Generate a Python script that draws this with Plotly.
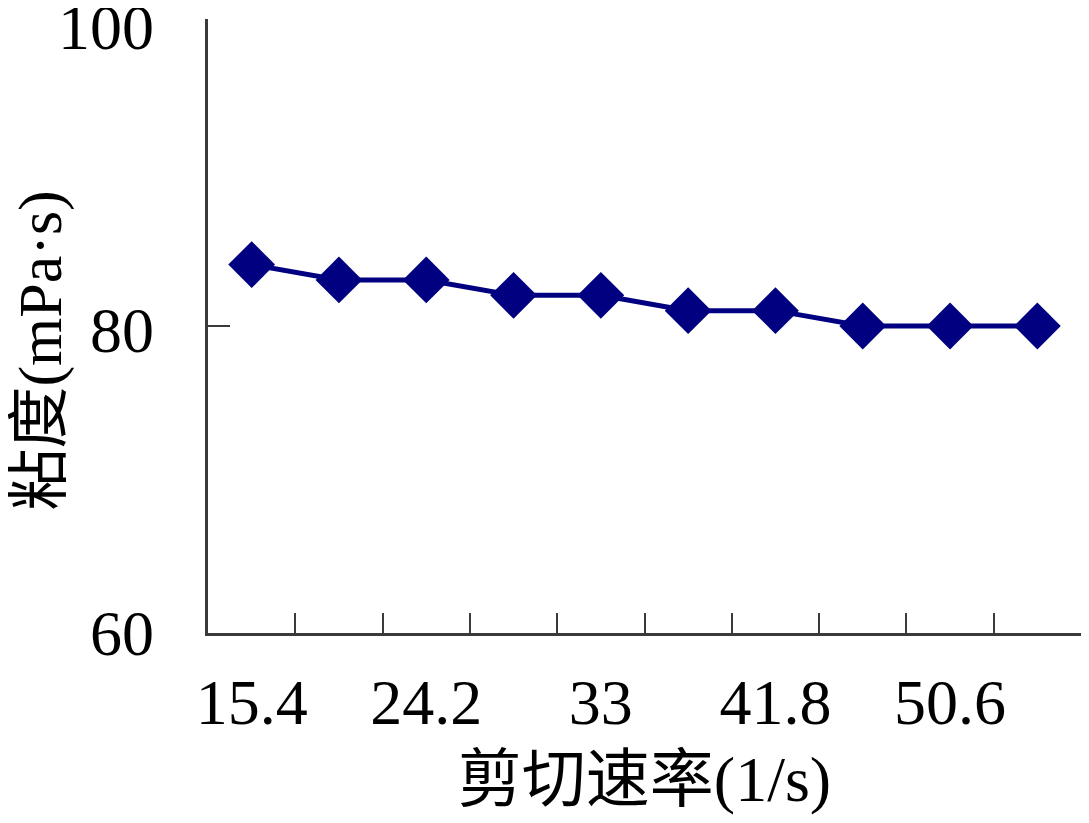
import plotly.graph_objects as go

# shear rate categories (1/s) and measured viscosity (mPa·s)
shear_rate = ["15.4", "19.8", "24.2", "28.6", "33", "37.4", "41.8", "46.2", "50.6", "55"]
viscosity = [84, 83, 83, 82, 82, 81, 81, 80, 80, 80]
label_every = ["15.4", "24.2", "33", "41.8", "50.6"]
y_ticks = [60, 80, 100]

font_main = "Liberation Serif, Times New Roman, Noto Sans CJK SC, serif"
axis_color = "#3a3a3a"

xpos = list(range(len(shear_rate)))

fig = go.Figure()
fig.add_trace(
    go.Scatter(
        x=xpos,
        y=viscosity,
        mode="lines+markers",
        line=dict(color="#000080", width=5),
        marker=dict(symbol="diamond", size=36, color="#000080"),
        showlegend=False,
    )
)
# invisible trace on the label axes so they get drawn
fig.add_trace(
    go.Scatter(x=xpos, y=viscosity, xaxis="x2", yaxis="y2", mode="markers",
               marker=dict(opacity=0), hoverinfo="skip", showlegend=False)
)

# ticks sit between categories, labels under every other category
boundaries = [i - 0.5 for i in range(len(shear_rate) + 1)]
label_pos = [shear_rate.index(s) for s in label_every]

big = dict(family=font_main, size=64, color="black")

# page has an 8px body margin, so keep the figure a bit smaller than the window
fig.update_layout(
    width=1073,
    height=807,
    margin=dict(l=200, r=0, t=11, b=182),
    paper_bgcolor="white",
    plot_bgcolor="white",
    font=big,
    xaxis=dict(
        range=[-0.5, len(shear_rate) - 0.5],
        tickvals=boundaries,
        ticktext=[""] * len(boundaries),
        ticks="inside",
        ticklen=20,
        tickwidth=2,
        tickcolor=axis_color,
        showline=True,
        linecolor=axis_color,
        linewidth=3,
        showgrid=False,
        zeroline=False,
        automargin=False,
    ),
    xaxis2=dict(
        overlaying="x",
        matches="x",
        side="bottom",
        tickvals=label_pos,
        ticktext=label_every,
        ticks="",
        ticklabelstandoff=26,
        ticklabeloverflow="allow",
        showline=False,
        showgrid=False,
        zeroline=False,
        automargin=False,
        tickfont=big,
        title=dict(text="剪切速率(1/s)", standoff=26, font=big),
    ),
    yaxis=dict(
        range=[60, 100],
        tickvals=y_ticks,
        ticktext=[""] * len(y_ticks),
        ticks="inside",
        ticklen=22,
        tickwidth=2,
        tickcolor=axis_color,
        showline=True,
        linecolor=axis_color,
        linewidth=3,
        showgrid=False,
        zeroline=False,
        automargin=False,
    ),
    # label axis stretched a touch at the top so the labels sit slightly low, as in the original
    yaxis2=dict(
        overlaying="y",
        side="left",
        range=[60, 100.5],
        tickvals=y_ticks,
        ticks="",
        ticklabelstandoff=53,
        ticklabeloverflow="allow",
        showline=False,
        showgrid=False,
        zeroline=False,
        automargin=False,
        tickfont=big,
    ),
    annotations=[
        dict(
            text="粘度(mPa·s)",
            xref="paper",
            yref="paper",
            x=0,
            y=0.46,
            xshift=-167,
            xanchor="center",
            yanchor="middle",
            textangle=-90,
            showarrow=False,
            font=dict(family=font_main, size=62, color="black"),
        )
    ],
)

fig.write_html("out.html")
